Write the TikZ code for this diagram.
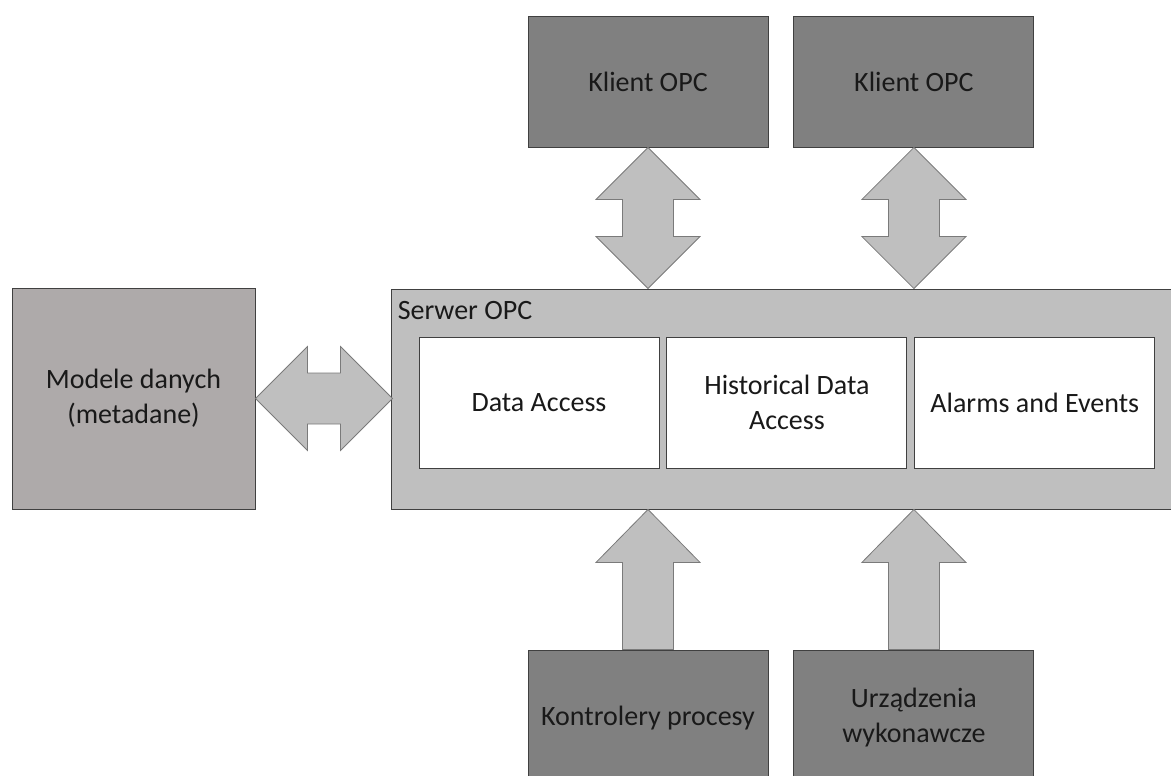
\documentclass[tikz,border=0pt]{standalone}
\usepackage{fontspec}
\setmainfont{Carlito}
\usetikzlibrary{positioning}
\definecolor{darkbox}{HTML}{808080}
\definecolor{lightbox}{HTML}{BFBFBF}
\definecolor{modelbox}{HTML}{AEAAAA}
\definecolor{boxedge}{HTML}{404040}
\definecolor{arrowedge}{HTML}{7A7A7A}
\begin{document}
\begin{tikzpicture}[x=1pt,y=-1pt,line join=miter,
	box/.style={draw=boxedge,line width=0.9pt,minimum width=240pt,minimum height=131pt,align=center,inner sep=0pt},
	clientbox/.style={box,fill=darkbox},
	modulebox/.style={box,fill=white},
	blockarrow/.style={fill=lightbox,draw=arrowedge,line width=0.8pt}]
	\tikzset{every node/.style={font=\fontsize{28}{35}\selectfont,text=black!90}}
	\useasboundingbox (0,0) rectangle (1171,776);
	% serwer i moduly
	\node[box,fill=lightbox,minimum width=780pt,minimum height=220pt] (srv) at (781,399) {};
	\node[inner sep=0pt,below right=13pt and 7pt of srv.north west] (srvlabel) {Serwer OPC};
	\node[modulebox] (da) at (539,402.5) {Data Access};
	\node[modulebox,right=7pt of da] (hda) {Historical Data\\Access};
	\node[modulebox,right=7pt of hda] (ae) {Alarms and Events};
	% klienci
	\node[clientbox] (k1) at (648,81.5) {Klient OPC};
	\node[clientbox,right=25pt of k1] (k2) {Klient OPC};
	% urzadzenia
	\node[clientbox,minimum height=136pt] (kp) at (648,718) {Kontrolery procesy};
	\node[clientbox,minimum height=136pt,right=25pt of kp] (uw) {Urządzenia\\wykonawcze};
	% modele danych
	\node[box,fill=modelbox,minimum width=243pt,minimum height=221pt] (md) at (133.5,398.5) {Modele danych\\(metadane)};
	% strzalki
	\foreach \k in {k1,k2}
	\draw[blockarrow] (\k.south) -- ([shift={(52,52)}]\k.south) -- ([shift={(25.5,52)}]\k.south)
		-- ([shift={(25.5,-52)}]\k.south |- srv.north) -- ([shift={(52,-52)}]\k.south |- srv.north)
		-- (\k.south |- srv.north) -- ([shift={(-52,-52)}]\k.south |- srv.north)
		-- ([shift={(-25.5,-52)}]\k.south |- srv.north) -- ([shift={(-25.5,52)}]\k.south)
		-- ([shift={(-52,52)}]\k.south) -- cycle;
	\foreach \k in {kp,uw}
	\draw[blockarrow] (\k.north |- srv.south) -- ([shift={(52,53)}]\k.north |- srv.south)
		-- ([shift={(25.5,53)}]\k.north |- srv.south) -- ([shift={(25.5,0)}]\k.north)
		-- ([shift={(-25.5,0)}]\k.north) -- ([shift={(-25.5,53)}]\k.north |- srv.south)
		-- ([shift={(-52,53)}]\k.north |- srv.south) -- cycle;
	\draw[blockarrow] (md.east) -- ([shift={(52,-52)}]md.east) -- ([shift={(52,-25.5)}]md.east)
		-- ([shift={(-50,-25.5)}]md.east -| srv.west) -- ([shift={(-50,-52)}]md.east -| srv.west)
		-- ([xshift=2pt]md.east -| srv.west) -- ([shift={(-50,52)}]md.east -| srv.west)
		-- ([shift={(-50,25.5)}]md.east -| srv.west) -- ([shift={(52,25.5)}]md.east)
		-- ([shift={(52,52)}]md.east) -- cycle;
\end{tikzpicture}
\end{document}
